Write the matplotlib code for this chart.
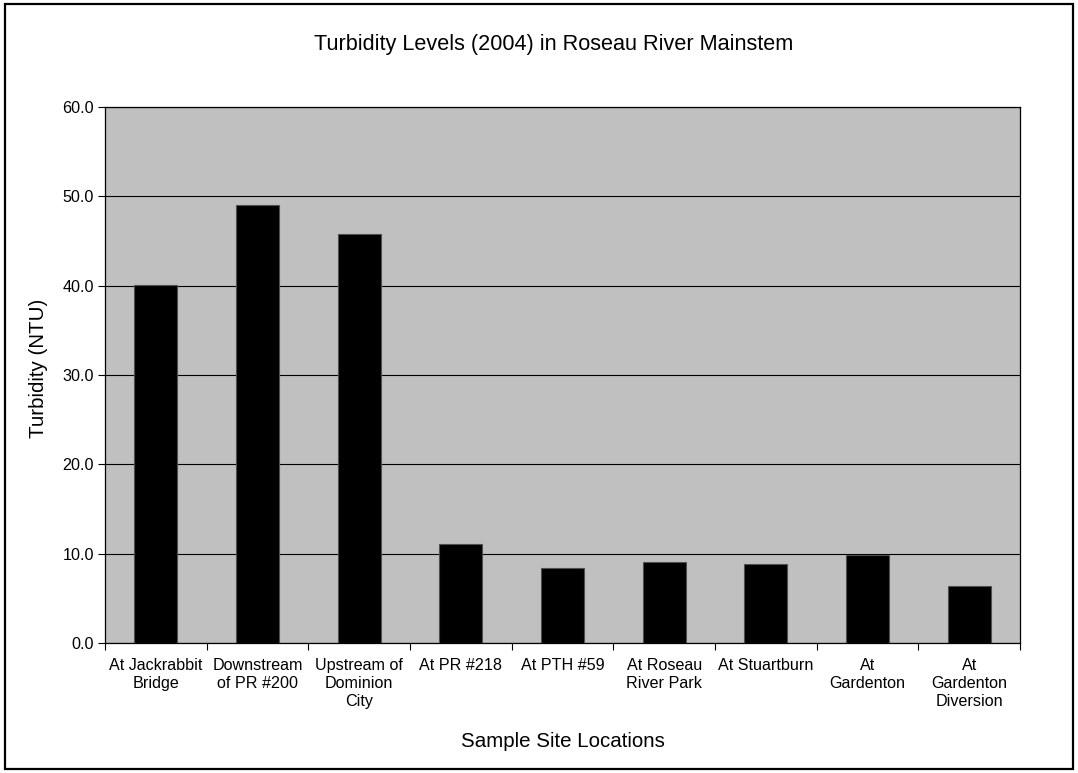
import matplotlib
matplotlib.use("Agg")
import matplotlib.pyplot as plt
from matplotlib.patches import Rectangle
import numpy as np

sites = ["At Jackrabbit\nBridge", "Downstream\nof PR #200", "Upstream of\nDominion\nCity",
         "At PR #218", "At PTH #59", "At Roseau\nRiver Park", "At Stuartburn",
         "At\nGardenton", "At\nGardenton\nDiversion"]
turbidity = [40.1, 49.0, 45.8, 11.1, 8.4, 9.1, 8.8, 9.9, 6.4]
y_ticks = [0, 10, 20, 30, 40, 50, 60]

plt.rcParams["font.family"] = ["Liberation Sans", "DejaVu Sans"]

fig = plt.figure(figsize=(10.78, 7.73), dpi=100)
ax = fig.add_axes([0.0974, 0.1682, 0.8488, 0.6934])
ax.set_facecolor("#c0c0c0")

x = np.arange(len(sites))
ax.bar(x, turbidity, width=0.42, color="black", edgecolor="#505050", linewidth=0.8, zorder=3)

ax.set_xlim(-0.5, len(sites) - 0.5)
ax.set_ylim(0, 60)
ax.set_yticks(y_ticks)
ax.set_yticklabels([f"{v:.1f}" for v in y_ticks], fontsize=11.6)
ax.yaxis.grid(True, color="black", linewidth=0.8, zorder=1)
ax.set_axisbelow(True)

ax.set_xticks(x)
ax.set_xticklabels(sites, fontsize=11.6, va="top", linespacing=1.25)
ax.tick_params(axis="x", length=0, pad=11)
ax.set_xticks(np.arange(len(sites) + 1) - 0.5, minor=True)
ax.tick_params(axis="x", which="minor", length=5, width=0.8, direction="out")
ax.tick_params(axis="y", length=5, width=0.8, direction="out", pad=3)

for s in ax.spines.values():
    s.set_linewidth(0.9)
    s.set_color("black")

ax.set_ylabel("Turbidity (NTU)", fontsize=14.8)
ax.yaxis.set_label_coords(-0.062, 0.513)
ax.set_xlabel("Sample Site Locations", fontsize=14.8, va="center")
ax.xaxis.set_label_coords(0.5, -0.183)
fig.text(0.5135, 0.943, "Turbidity Levels (2004) in Roseau River Mainstem",
         ha="center", va="center", fontsize=15.6)

fig.patches.append(Rectangle((0.0046, 0.005), 0.9908, 0.9895, transform=fig.transFigure,
                             fill=False, edgecolor="black", linewidth=1.6))

fig.savefig("out.png", dpi=100)
